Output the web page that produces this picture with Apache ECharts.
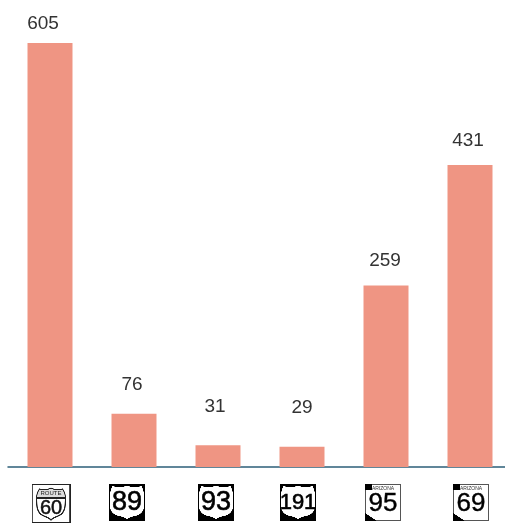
<!DOCTYPE html>
<html><head><meta charset="utf-8">
<style>html,body{margin:0;padding:0;background:#fff}#c{width:505px;height:523px}</style>
<script src="https://cdn.jsdelivr.net/npm/echarts@6/dist/echarts.min.js"></script></head>
<body><div id="c"></div>
<script>
const routes = ['60','89','93','191','95','69'];
const values = [605,76,31,29,259,431];
const smallText = {'60':'ROUTE','95':'ARIZONA','69':'ARIZONA'};
const iconShift = {'60':1,'89':-7,'93':-2,'191':-4,'95':-3,'69':1};
const labelGap = [10,19,29,29,15,15];
const labelShift = [-7,-2,-3,0,-1,-2];

// Offscreen sign artwork (sy/sh select a horizontal slice of the sign)
function sign(w,sy,sh,draw){
  const c=document.createElement('canvas');c.width=w*3;c.height=sh*3;
  const g=c.getContext('2d');g.scale(3,3);g.translate(0,-sy);draw(g);return c;
}
const SHIELD='M3.5 2 C9 3.5 14 3.5 18 1.5 C22 3.5 27 3.5 32.5 2 C34 5 35 8 35 12 L35 22 C35 27 32 30 28 31.5 C24 32.5 20 33 18 35.5 C16 33 12 32.5 8 31.5 C4 30 1 27 1 22 L1 12 C1 8 2 5 3.5 2Z';
const drawUS=g=>{g.fillStyle='#000';g.fillRect(0,0,36,37);g.fillStyle='#fff';g.fill(new Path2D(SHIELD));};
const drawRoute=g=>{
  g.fillStyle='#fff';g.fillRect(0,0,39,39);g.strokeStyle='#222';g.lineWidth=1.2;g.strokeRect(.6,.6,37.8,37.8);
  g.lineWidth=1;g.fillStyle='#ddd';
  const top=new Path2D('M8 5 C13 6 16 6 19.5 4 C23 6 26 6 31 5 C33 8 34 11 34 14 L5 14 C5 11 6 8 8 5Z');
  g.fill(top);g.stroke(top);
  g.fillStyle='#fff';g.lineWidth=1.3;
  const bot=new Path2D('M5 14 L34 14 C34 23 33 27 30 30 C26 33 22 33 19.5 36 C17 33 13 33 9 30 C6 27 5 23 5 14Z');
  g.fill(bot);g.stroke(bot);
};
const drawAZ=g=>{
  g.fillStyle='#fff';g.fillRect(0,0,36,37);g.strokeStyle='#555';g.lineWidth=1;g.strokeRect(.5,.5,35,36);
  g.fillStyle='#000';g.fillRect(0,0,7,6);
  g.fill(new Path2D('M0 29 L12 37 L0 37Z'));
};
const SANS='"Liberation Sans",Arial';
const token=(w,sy,h,draw,size,color,stroke)=>({width:w,height:h,lineHeight:h,align:'center',verticalAlign:'middle',
  fontFamily:SANS,fontSize:size||1,color:color||'#000',
  textBorderColor:stroke?color:'transparent',textBorderWidth:stroke||0,backgroundColor:{image:sign(w,sy,h,draw)}});
const rich={
  us:token(36,0,37,drawUS,27,'#000',.6),
  us3:token(36,0,37,drawUS,22,'#000',.6),
  r0:token(39,0,5,drawRoute),
  r1:token(39,5,9,drawRoute,6,'#222'),
  r2:token(39,14,20,drawRoute,20,'#111',.5),
  r3:token(39,34,5,drawRoute),
  a1:token(36,0,9,drawAZ,5,'#333'),
  a2:token(36,9,22,drawAZ,26,'#000',.4),
  a3:token(36,31,6,drawAZ)
};
const fmt={};
routes.forEach(r=>{
  const s=iconShift[r],w=Math.abs(s)*2,key='g'+w;
  rich[key]={width:w,height:1};
  const a=s>=0?`{${key}|}`:'',b=s<0?`{${key}|}`:'';
  const row=(k,t)=>`${a}{${k}|${t}}${b}`;
  if(!smallText[r]) fmt[r]=row(r.length>2?'us3':'us',r);
  else if(r==='60') fmt[r]=[row('r0',' '),row('r1',smallText[r]),row('r2',r),row('r3',' ')].join('\n');
  else fmt[r]=[row('a1',smallText[r]),row('a2',r),row('a3',' ')].join('\n');
});

const chart=echarts.init(document.getElementById('c'));
chart.setOption({
  animation:false,
  grid:{left:8,width:504,top:43,bottom:56,outerBoundsMode:'none'},
  xAxis:{type:'category',data:routes,
    axisLine:{lineStyle:{color:'#2d5f78',width:1.5}},
    axisTick:{show:false},
    axisLabel:{interval:0,margin:17,formatter:v=>fmt[v],rich,hideOverlap:false}},
  yAxis:{type:'value',min:0,max:605,show:false,splitLine:{show:false}},
  series:[{type:'bar',barWidth:45,
    data:values.map((v,i)=>({value:v,label:{distance:labelGap[i],offset:[labelShift[i],0]}})),
    itemStyle:{color:'#ef9583'},
    label:{show:true,position:'top',color:'#333',fontFamily:SANS,fontSize:19}}]
});
</script></body></html>
